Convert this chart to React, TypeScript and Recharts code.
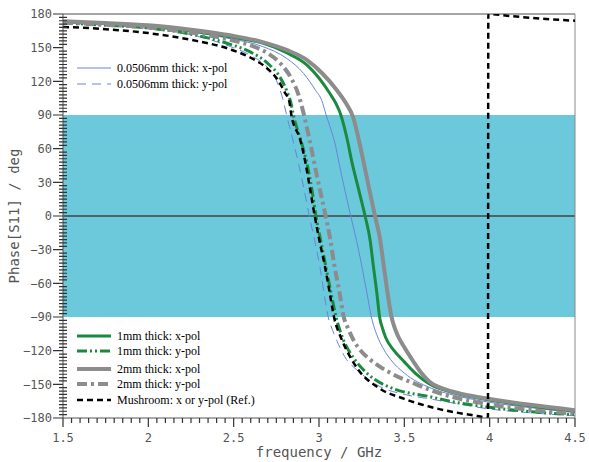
import {
  Line,
  LineChart,
  ReferenceArea,
  ReferenceLine,
  XAxis,
  YAxis,
} from "recharts";

type Pt = [number, number];

// frequency (GHz), phase (deg)
const thinXpol: Pt[] = [
  [1.5, 172.5], [1.75, 171], [2.0, 168.5], [2.25, 164], [2.48, 158], [2.67, 151],
  [2.81, 140.5], [2.91, 127], [2.98, 112], [3.016, 103], [3.04, 91], [3.07, 77],
  [3.095, 64], [3.115, 49], [3.15, 24], [3.186, 0], [3.22, -22], [3.25, -44],
  [3.28, -68], [3.307, -90], [3.325, -100], [3.35, -110], [3.38, -119], [3.42, -128],
  [3.5, -140], [3.65, -153], [3.8, -160], [4.0, -166], [4.25, -171], [4.5, -175],
];
const thinYpol: Pt[] = [
  [1.5, 172], [1.75, 170], [2.0, 167], [2.25, 161.5], [2.48, 151], [2.6, 143],
  [2.7, 132], [2.75, 121], [2.79, 103], [2.81, 90], [2.85, 66], [2.89, 40],
  [2.92, 18], [2.943, 0], [2.975, -22], [3.006, -46], [3.035, -74], [3.054, -90],
  [3.08, -102], [3.104, -111], [3.162, -128], [3.221, -137], [3.357, -152],
  [3.5, -159], [3.65, -163], [3.8, -167], [4.0, -172], [4.25, -175.5], [4.5, -178],
];
const mm1Xpol: Pt[] = [
  [1.5, 173], [1.75, 171.5], [2.0, 169], [2.25, 165], [2.48, 159.5], [2.67, 154],
  [2.81, 145.5], [2.93, 134.5], [3.0, 123], [3.06, 110], [3.1, 100], [3.128, 90],
  [3.15, 78], [3.17, 65], [3.19, 50], [3.23, 25], [3.27, 0], [3.3, -22],
  [3.318, -44], [3.34, -70], [3.355, -90], [3.372, -100], [3.39, -108], [3.44, -120],
  [3.5, -130], [3.57, -141], [3.65, -150], [3.8, -158], [4.0, -164], [4.25, -169.5],
  [4.5, -174],
];
const mm1Ypol: Pt[] = [
  [1.5, 172], [1.75, 170], [2.0, 167.5], [2.25, 162], [2.48, 153], [2.6, 146],
  [2.7, 136], [2.77, 124], [2.81, 112], [2.835, 101], [2.85, 90], [2.9, 64],
  [2.935, 43], [2.96, 22], [2.982, 0], [3.01, -22], [3.04, -45], [3.075, -72],
  [3.1, -90], [3.142, -110], [3.21, -128], [3.26, -137], [3.33, -146], [3.42, -153],
  [3.65, -161], [3.8, -166], [4.0, -170.5], [4.25, -174.5], [4.5, -177],
];
const mm2Xpol: Pt[] = [
  [1.5, 173.5], [1.75, 172], [2.0, 170], [2.25, 166], [2.48, 161], [2.67, 155],
  [2.81, 148], [2.93, 139], [3.02, 127], [3.1, 113], [3.16, 100], [3.2, 88],
  [3.23, 70], [3.26, 49], [3.29, 27], [3.328, 0], [3.357, -20], [3.38, -45],
  [3.405, -72], [3.425, -90], [3.442, -99], [3.46, -106], [3.5, -117], [3.55, -129],
  [3.6, -140], [3.65, -148], [3.75, -155], [3.85, -159], [4.0, -163], [4.25, -168.5],
  [4.5, -173],
];
const mm2Ypol: Pt[] = [
  [1.5, 172.5], [1.75, 170.5], [2.0, 168], [2.25, 163.5], [2.48, 157], [2.6, 152],
  [2.7, 145], [2.78, 135], [2.84, 122], [2.88, 108], [2.912, 90], [2.95, 64],
  [2.99, 34], [3.039, 0], [3.065, -20], [3.09, -44], [3.12, -68], [3.145, -90],
  [3.17, -100], [3.2, -110], [3.25, -121], [3.3, -128], [3.42, -140], [3.57, -150],
  [3.65, -155], [3.8, -162], [4.0, -168], [4.25, -173], [4.5, -176],
];
const mushroom: Pt[] = [
  [1.5, 168.5], [1.75, 166.5], [2.0, 163], [2.25, 157], [2.48, 148.5], [2.6, 141],
  [2.7, 131], [2.76, 121], [2.8, 110], [2.826, 102], [2.838, 90], [2.89, 68],
  [2.92, 48], [2.95, 22], [2.975, 0], [3.0, -20], [3.035, -45], [3.06, -66],
  [3.088, -90], [3.133, -110], [3.192, -128], [3.23, -137], [3.338, -152],
  [3.5, -163], [3.65, -170], [3.8, -175], [3.9, -177.5], [3.99, -179.5],
  [3.992, 180], [4.1, 178.5], [4.25, 176.5], [4.5, 174],
];

const xMajor = [1.5, 2, 2.5, 3, 3.5, 4, 4.5];
const yMajor = [180, 150, 120, 90, 60, 30, 0, -30, -60, -90, -120, -150, -180];

const seriesNames = [
  "0.0506mm thick: x-pol",
  "0.0506mm thick: y-pol",
  "1mm thick: x-pol",
  "1mm thick: y-pol",
  "2mm thick: x-pol",
  "2mm thick: y-pol",
  "Mushroom: x or y-pol (Ref.)",
];

const BLUE = "#6a84d8";
const GREEN = "#1b8a3e";
const GRAY = "#8c8c8c";
const BAND = "#6bc9db";
const AXIS = "#555";
const TICK = "#333";
const MONO = "'DejaVu Sans Mono', monospace";

// chart box
const W = 589;
const H = 462;
const M = { top: 14, right: 14, bottom: 0, left: 0 };
const Y_AXIS_W = 63;
const X_AXIS_H = 44;
const plotL = M.left + Y_AXIS_W;
const plotR = W - M.right;
const plotT = M.top;
const plotB = H - M.bottom - X_AXIS_H;

const styles = [
  { stroke: BLUE, width: 1, dash: undefined },
  { stroke: BLUE, width: 1, dash: "9 6" },
  { stroke: GREEN, width: 3, dash: undefined },
  { stroke: GREEN, width: 3, dash: "10 3 2 3 2 3" },
  { stroke: GRAY, width: 4, dash: undefined },
  { stroke: GRAY, width: 4, dash: "10 4 3 4" },
  { stroke: "#000", width: 2.5, dash: "6 4" },
];

const series = [thinXpol, thinYpol, mm1Xpol, mm1Ypol, mm2Xpol, mm2Ypol, mushroom].map(
  (pts) => pts.map(([f, p]) => ({ f, p }))
);

// tick-mark positions (axis decoration only)
const xMinor: number[] = [];
for (let i = 0; i <= 60; i++) xMinor.push(Math.round((1.5 + i * 0.05) * 100) / 100);
const yMinor: number[] = [];
for (let i = 0; i <= 120; i++) yMinor.push(-180 + i * 3);

const fx = (v: number) => plotL + ((v - 1.5) / 3) * (plotR - plotL);
const fy = (v: number) => plotT + ((180 - v) / 360) * (plotB - plotT);

const fmt = (v: number) => (v < 0 ? "\u2212" + Math.abs(v) : String(v));

const tickFont = { fontFamily: MONO, fontSize: 12, fill: AXIS };

const legendTop = [0, 1];
const legendBottom = [2, 3, 4, 5, 6];
const topRowsY = [68, 84];
const bottomRowsY = [336, 351, 369, 384, 400];

function LegendRows({ idx, rows }: { idx: number[]; rows: number[] }) {
  return (
    <>
      {idx.map((s, i) => (
        <g key={s}>
          <line
            x1={77}
            x2={111}
            y1={rows[i]}
            y2={rows[i]}
            stroke={styles[s].stroke}
            strokeWidth={styles[s].width}
            strokeDasharray={styles[s].dash}
          />
          <text
            x={117}
            y={rows[i] + 4}
            fontFamily="'Liberation Serif', 'Times New Roman', serif"
            fontSize={12}
            fill="#000"
          >
            {seriesNames[s]}
          </text>
        </g>
      ))}
    </>
  );
}

function TickMarks() {
  const xs = xMinor.map((v) => {
    const x = fx(v);
    const len = xMajor.some((m) => Math.abs(m - v) < 1e-6) ? 9 : 5;
    return `M${x},${plotB}V${plotB + len}`;
  });
  const ys = yMinor.map((v) => {
    const y = fy(v);
    return yMajor.includes(v) ? `M${plotL - 10},${y}H${plotL}` : `M${plotL - 4},${y}H${plotL + 4}`;
  });
  return <path d={[...xs, ...ys].join("")} fill="none" stroke={TICK} strokeWidth={1.2} />;
}

export default function App() {
  return (
    <div style={{ position: "absolute", left: 0, top: 0, width: W, height: H, background: "#fff" }}>
      <LineChart width={W} height={H} margin={M}>
        <ReferenceArea y1={-90} y2={90} x1={1.5} x2={4.5} fill={BAND} fillOpacity={1} stroke="none" />
        <ReferenceLine y={0} stroke="#4a6468" strokeWidth={2} />
        <ReferenceLine y={180} stroke="#888" strokeWidth={1.5} />
        <ReferenceLine x={4.5} stroke="#888" strokeWidth={1} />
        <XAxis
          dataKey="f"
          type="number"
          domain={[1.5, 4.5]}
          ticks={xMajor}
          interval={0}
          height={X_AXIS_H}
          tickSize={9}
          tickMargin={6}
          tickLine={false}
          stroke={AXIS}
          tick={tickFont}
          allowDataOverflow
        />
        <YAxis
          type="number"
          domain={[-180, 180]}
          ticks={yMajor}
          interval={0}
          width={Y_AXIS_W}
          tickSize={10}
          tickMargin={1}
          tickLine={false}
          stroke={AXIS}
          tick={tickFont}
          tickFormatter={fmt}
          allowDataOverflow
        />
        {series.map((d, i) => (
          <Line
            key={seriesNames[i]}
            data={d}
            dataKey="p"
            name={seriesNames[i]}
            type="monotone"
            stroke={styles[i].stroke}
            strokeWidth={styles[i].width}
            strokeDasharray={styles[i].dash}
            dot={false}
            activeDot={false}
            isAnimationActive={false}
          />
        ))}
      </LineChart>
      <svg
        width={W}
        height={H}
        style={{ position: "absolute", left: 0, top: 0, pointerEvents: "none" }}
      >
        <TickMarks />
        <LegendRows idx={legendTop} rows={topRowsY} />
        <LegendRows idx={legendBottom} rows={bottomRowsY} />
        <text
          x={15}
          y={216}
          transform="rotate(-90 15 216)"
          textAnchor="middle"
          dominantBaseline="middle"
          fontFamily={MONO}
          fontSize={14}
          fill={AXIS}
        >
          Phase[S11] / deg
        </text>
        <text x={319} y={457} textAnchor="middle" fontFamily={MONO} fontSize={14} fill={AXIS}>
          frequency / GHz
        </text>
      </svg>
    </div>
  );
}
